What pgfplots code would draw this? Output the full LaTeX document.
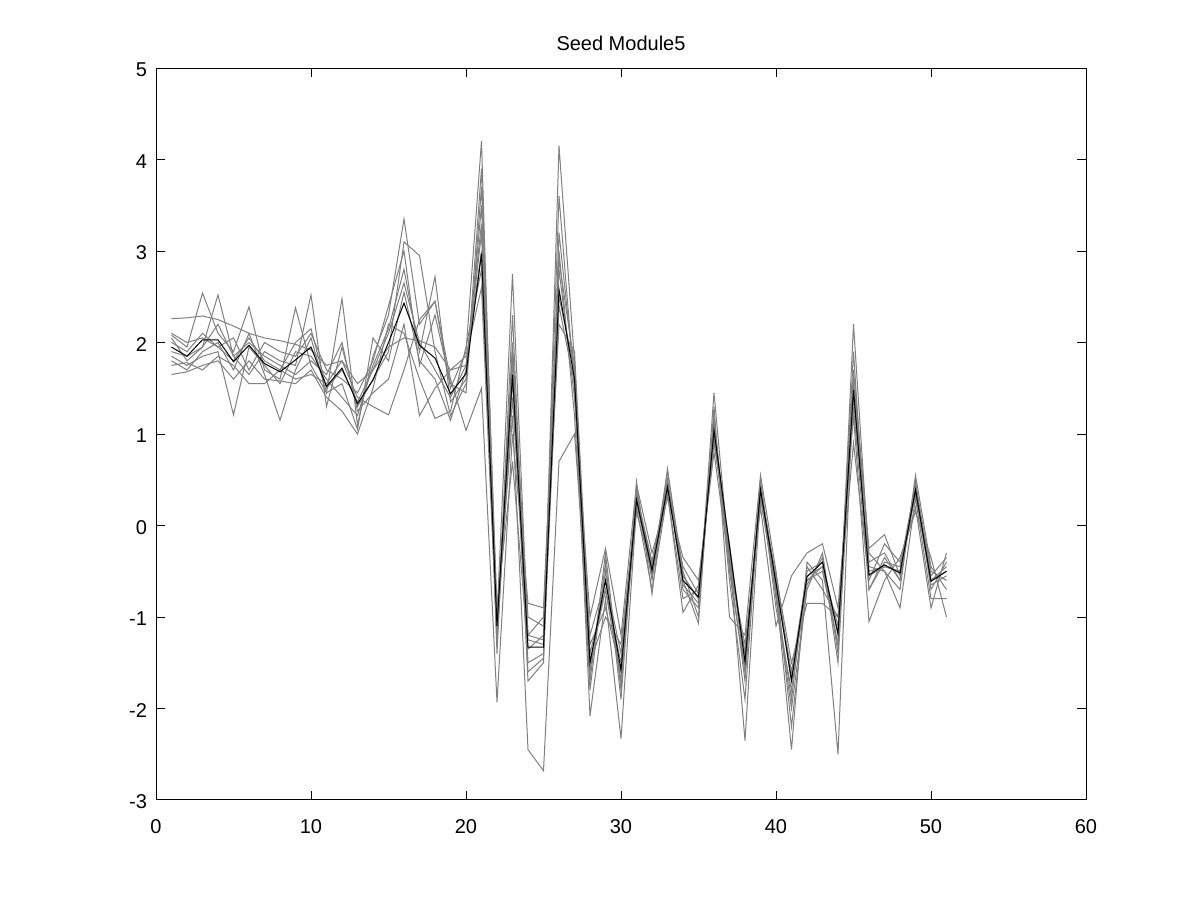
\documentclass[border=0pt]{standalone}
\usepackage{fontspec}
\setmainfont{Liberation Sans}
\usepackage{pgfplots}
\pgfplotsset{compat=1.18}
\usepackage{pgfplotstable}
\pgfplotstableread{
x g1 g2 g3 g4 g5 g6 g7 g8 g9 g10 m
1 2.26 2.08 2.05 1.85 1.80 1.75 1.65 2.00 1.90 2.10 1.95
2 2.27 1.95 1.80 1.75 1.70 1.78 1.68 1.90 1.85 2.00 1.85
3 2.29 2.54 1.95 1.85 1.90 1.70 1.75 2.10 1.95 2.05 2.03
4 2.25 2.10 2.52 1.90 2.00 1.85 1.80 1.95 2.20 1.95 2.03
5 2.18 1.90 1.85 1.21 1.70 1.75 1.60 2.05 1.85 1.80 1.79
6 2.10 2.39 1.65 1.95 2.10 1.55 1.80 1.70 2.00 2.05 1.97
7 2.05 1.70 1.90 1.75 1.65 1.55 1.60 2.00 1.85 1.80 1.77
8 2.02 1.60 1.80 1.55 1.15 1.70 1.58 1.90 1.75 1.70 1.68
9 1.98 2.38 1.75 1.90 1.70 1.60 1.55 1.85 1.65 2.00 1.81
10 1.92 1.75 2.52 1.85 2.05 1.65 1.70 2.10 1.80 2.15 1.95
11 1.75 1.45 1.30 1.60 1.45 1.55 1.40 1.70 1.65 1.50 1.52
12 1.80 2.48 1.95 1.40 1.55 1.80 1.25 1.60 2.00 1.70 1.72
13 1.55 1.10 1.30 1.20 1.05 1.40 1.00 1.45 1.25 1.35 1.33
14 1.70 1.85 1.60 1.75 2.05 1.30 1.50 1.80 1.45 1.70 1.59
15 1.95 2.30 1.90 2.15 1.80 1.21 2.20 2.40 1.60 2.10 2.00
16 2.05 3.35 3.10 2.80 2.55 1.70 2.10 3.00 2.20 2.65 2.43
17 2.02 2.20 2.95 1.90 1.80 2.25 1.60 1.75 1.20 2.00 1.97
18 1.95 2.45 1.90 2.72 1.60 2.45 1.17 2.30 1.50 1.70 1.83
19 1.70 1.50 1.20 1.35 1.15 1.60 1.25 1.55 1.70 1.40 1.44
20 1.75 1.90 1.55 1.60 1.70 1.04 1.95 1.45 1.85 1.75 1.66
21 3.00 4.20 3.90 3.50 3.20 1.50 2.80 3.70 2.60 3.30 2.97
22 -1.20 -1.30 -1.00 -1.15 -1.05 -1.93 -1.10 -0.90 -1.25 -1.40 -1.10
23 1.40 2.30 2.75 1.90 1.20 1.00 1.80 0.70 1.60 2.00 1.65
24 -1.25 -1.50 -1.20 -1.70 -2.45 -0.85 -1.00 -1.35 -1.60 -1.20 -1.33
25 -1.30 -1.40 -1.25 -1.50 -2.68 -0.90 -1.10 -1.20 -1.45 -1.00 -1.33
26 2.50 4.15 3.60 3.20 0.70 2.80 2.20 3.00 2.40 2.90 2.58
27 1.70 1.80 1.50 1.60 1.00 1.40 1.90 1.20 1.55 1.75 1.60
28 -1.40 -1.60 -1.80 -2.08 -1.20 -1.00 -1.30 -1.70 -1.50 -1.50 -1.50
29 -0.70 -0.50 -0.40 -0.80 -0.60 -0.25 -0.90 -0.30 -1.00 -0.70 -0.60
30 -1.50 -1.70 -1.90 -2.33 -1.40 -1.20 -1.60 -1.80 -1.30 -1.70 -1.58
31 0.30 0.40 0.35 0.20 0.30 0.45 0.15 0.48 0.25 0.35 0.28
32 -0.45 -0.60 -0.50 -0.70 -0.40 -0.30 -0.50 -0.75 -0.55 -0.40 -0.49
33 0.45 0.50 0.60 0.35 0.40 0.30 0.50 0.62 0.35 0.45 0.42
34 -0.55 -0.70 -0.50 -0.80 -0.45 -0.35 -0.60 -0.65 -0.95 -0.55 -0.60
35 -0.80 -0.90 -1.00 -0.70 -0.75 -0.60 -1.07 -0.85 -0.65 -0.80 -0.78
36 1.00 1.45 1.20 0.90 1.10 0.80 1.30 1.15 0.95 1.05 1.04
37 -0.30 -0.40 -0.50 -0.20 -0.35 -0.45 -1.00 -0.60 -0.35 -0.25 -0.23
38 -1.40 -1.70 -1.60 -1.50 -2.35 -1.30 -1.20 -1.90 -1.40 -1.60 -1.49
39 0.40 0.50 0.45 0.30 0.35 0.20 0.55 0.45 0.30 0.40 0.39
40 -0.65 -0.80 -0.90 -0.70 -0.55 -1.10 -0.50 -0.60 -0.75 -0.60 -0.63
41 -1.60 -2.00 -1.80 -2.45 -1.50 -0.55 -1.70 -2.20 -1.90 -1.70 -1.69
42 -0.55 -0.70 -0.60 -0.40 -0.85 -0.30 -0.50 -0.65 -0.45 -0.60 -0.56
43 -0.45 -0.30 -0.50 -0.60 -0.85 -0.20 -0.40 -0.35 -0.70 -0.45 -0.40
44 -1.10 -1.40 -1.30 -2.50 -1.00 -0.90 -1.20 -1.50 -1.00 -1.30 -1.18
45 1.40 2.20 1.90 1.60 0.90 1.20 1.70 1.50 1.30 1.50 1.48
46 -0.50 -0.40 -0.70 -0.30 -0.60 -1.05 -0.25 -0.45 -0.70 -0.55 -0.54
47 -0.45 -0.30 -0.40 -0.50 -0.20 -0.60 -0.10 -0.50 -0.35 -0.45 -0.43
48 -0.50 -0.60 -0.45 -0.90 -0.40 -0.35 -0.55 -0.70 -0.60 -0.50 -0.52
49 0.40 0.50 0.45 0.30 0.20 0.15 0.35 0.55 0.40 0.40 0.39
50 -0.60 -0.70 -0.50 -0.80 -0.90 -0.35 -0.65 -0.45 -0.55 -0.60 -0.61
51 -0.45 -0.40 -0.60 -0.80 -0.30 -1.00 -0.55 -0.70 -0.35 -0.50 -0.50
}\datatable
\definecolor{lg}{RGB}{128,128,128}
\begin{document}
\begin{tikzpicture}[x=1pt,y=1pt]
\useasboundingbox (0,0) rectangle (600,450);
\fill[white] (0,0) rectangle (600,450);
\begin{axis}[
  at={(78pt,50pt)}, anchor=south west,
  scale only axis, width=465pt, height=366pt,
  xmin=0, xmax=60, ymin=-3, ymax=5,
  xtick={0,10,...,60}, ytick={-3,-2,...,5},
  tick align=inside, major tick length=4.5pt,
  axis line style={line width=0.5pt},
  tick style={line width=0.5pt, black},
  font=\fontsize{10}{12}\selectfont,
  /pgf/number format/assume math mode=true,
  xticklabel style={yshift=-6pt},
  yticklabel style={xshift=-1pt, yshift=-1pt},
  title={Seed Module5},
  title style={yshift=-1pt},
  every axis plot/.append style={line width=0.5pt, mark=none},
]
\foreach \c in {g1,g2,g3,g4,g5,g6,g7,g8,g9,g10}{
  \addplot[lg] table[x=x, y=\c] {\datatable};
}
\addplot[black] table[x=x, y=m] {\datatable};
\end{axis}
\end{tikzpicture}
\end{document}
